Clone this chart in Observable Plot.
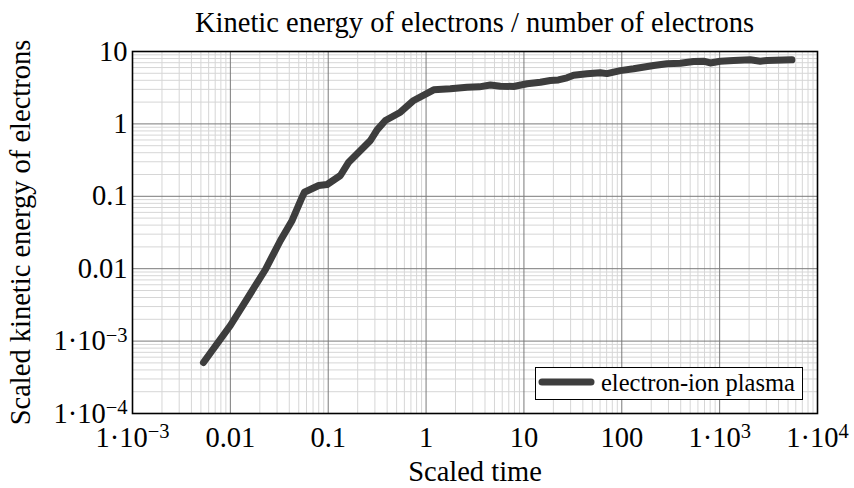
<!DOCTYPE html>
<html>
<head>
<meta charset="utf-8">
<script src="https://cdn.jsdelivr.net/npm/d3@7"></script>
<script src="https://cdn.jsdelivr.net/npm/@observablehq/plot@0.6"></script>
<style>
  html, body { margin: 0; padding: 0; background: #fff; }
  #wrap { position: relative; width: 854px; height: 488px; font-family: "Liberation Serif", serif; }
  #title { position: absolute; left: 132px; width: 685px; top: 9px; text-align: center; font-size: 28.5px; line-height: 28px; color: #000; }
  #legend { position: absolute; left: 535px; top: 367px; width: 266px; height: 31px; border: 1.5px solid #000; background: #fff; }
  #legend svg { position: absolute; left: 0; top: 0; }
  #legend span { position: absolute; left: 65px; top: 1px; font-size: 24.5px; line-height: 28px; white-space: nowrap; }
</style>
</head>
<body>
<div id="wrap">
  <div id="title">Kinetic energy of electrons / number of electrons</div>
</div>
<script>
// Scaled time
const time = [0.00531, 0.01, 0.02283, 0.03249, 0.04279, 0.0541, 0.0571, 0.08, 0.0975, 0.1332, 0.162, 0.2305, 0.27, 0.3158, 0.384, 0.5464, 0.747, 1.196, 1.771, 2.624, 3.5, 4.538, 5.741, 7.848, 10.76, 14.71, 18.61, 22.5, 27.55, 32.19, 44.1, 60.3, 70.6, 96.5, 132, 211.3, 289.5, 395.9, 541, 684.7, 801.6, 1014, 1387, 2055, 2598, 3043, 5476];
// Scaled kinetic energy of electrons
const energy = [5.06e-4, 1.643e-3, 0.00975, 0.02452, 0.04634, 0.0972, 0.1139, 0.141, 0.1455, 0.1938, 0.2958, 0.4768, 0.5899, 0.829, 1.114, 1.45, 2.105, 2.958, 3.053, 3.213, 3.25, 3.45, 3.317, 3.286, 3.58, 3.767, 3.976, 4.05, 4.333, 4.7, 4.92, 5.08, 4.95, 5.44, 5.77, 6.41, 6.76, 6.89, 7.28, 7.35, 6.95, 7.35, 7.51, 7.68, 7.35, 7.51, 7.68];
const seriesName = "electron-ion plasma";

const xTicks = [1e-3, 1e-2, 1e-1, 1, 10, 100, 1e3, 1e4];
const xTickLabels = ["1·10^−3", "0.01", "0.1", "1", "10", "100", "1·10^3", "1·10^4"];
const yTicks = [1e-4, 1e-3, 1e-2, 1e-1, 1, 10];
const yTickLabels = ["1·10^−4", "1·10^−3", "0.01", "0.1", "1", "10"];

const data = time.map((t, i) => ({t, e: energy[i]}));
const minor = (majors) => {
  const out = [];
  for (let k = 0; k < majors.length - 1; k++)
    for (let m = 2; m <= 9; m++) out.push(majors[k] * m);
  return out;
};

const chart = Plot.plot({
  width: 854,
  height: 488,
  marginTop: 51,
  marginRight: 37,
  marginBottom: 75,
  marginLeft: 132,
  style: {fontFamily: "Liberation Serif, serif", fontSize: "28.5px", color: "#000", background: "transparent"},
  x: {type: "log", domain: [1e-3, 1e4]},
  y: {type: "log", domain: [1e-4, 10]},
  marks: [
    Plot.gridX(minor(xTicks), {stroke: "#d6d6d6", strokeOpacity: 1, strokeWidth: 1}),
    Plot.gridY(minor(yTicks), {stroke: "#d6d6d6", strokeOpacity: 1, strokeWidth: 1}),
    Plot.gridX(xTicks, {stroke: "#7a7a7a", strokeOpacity: 1, strokeWidth: 1}),
    Plot.gridY(yTicks, {stroke: "#7a7a7a", strokeOpacity: 1, strokeWidth: 1}),
    Plot.axisX(xTicks, {tickSize: 0, tickPadding: 13, tickFormat: (d) => xTickLabels[xTicks.indexOf(d)],
      label: "Scaled time", labelAnchor: "center", labelOffset: 67, labelArrow: "none", fontSize: 28.5}),
    Plot.axisY(yTicks, {tickSize: 0, tickPadding: 5, tickFormat: (d) => yTickLabels[yTicks.indexOf(d)],
      label: "Scaled kinetic energy of electrons", labelAnchor: "center", labelOffset: 123, labelArrow: "none", fontSize: 28.5}),
    Plot.line(data, {x: "t", y: "e", stroke: "#3d3d3d", strokeWidth: 7, strokeLinecap: "round", strokeLinejoin: "round"}),
    Plot.frame({stroke: "#000", strokeWidth: 1.6})
  ]
});

// render exponents as raised text
chart.querySelectorAll("text").forEach((t) => {
  const s = t.textContent;
  if (s.includes("^")) {
    const [base, exp] = s.split("^");
    t.textContent = "";
    const a = document.createElementNS("http://www.w3.org/2000/svg", "tspan");
    a.textContent = base;
    const b = document.createElementNS("http://www.w3.org/2000/svg", "tspan");
    b.textContent = exp;
    b.setAttribute("dy", "-0.42em");
    b.setAttribute("font-size", "0.72em");
    t.appendChild(a);
    t.appendChild(b);
  }
});

const wrap = document.getElementById("wrap");
wrap.insertBefore(chart, wrap.firstChild);

const legend = document.createElement("div");
legend.id = "legend";
legend.innerHTML = `<svg width="60" height="31"><line x1="6" x2="55" y1="14" y2="14" stroke="#3d3d3d" stroke-width="7" stroke-linecap="round"/></svg><span></span>`;
legend.querySelector("span").textContent = seriesName;
wrap.appendChild(legend);
</script>
</body>
</html>
